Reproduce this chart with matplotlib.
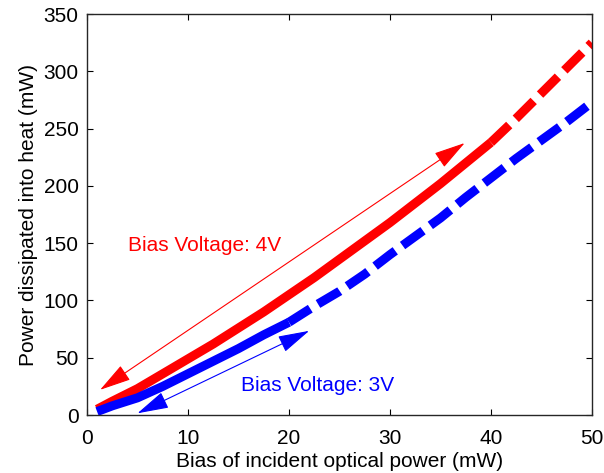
import matplotlib
matplotlib.use("Agg")
import matplotlib.pyplot as plt
import numpy as np

plt.rcParams['font.family'] = ['Liberation Sans', 'DejaVu Sans']

x_red = [1, 2.5, 5, 7.5, 10, 12.5, 15, 17.5, 20, 22.5, 25, 27.5, 30, 32.5, 35, 37.5, 40, 42.5, 45, 47.5, 50]
y_red = [5, 12, 23, 36, 49, 62, 76, 90, 105, 120, 136, 152, 168, 185, 202, 220, 238, 259, 281, 303, 325]
x_blue = [1, 2.5, 5, 7.5, 10, 12.5, 15, 17.5, 20, 22.5, 25, 27.5, 30, 32.5, 35, 37.5, 40, 42.5, 45, 47.5, 50]
y_blue = [3, 8, 15, 25, 36, 47, 58, 70, 81, 95, 108, 123, 140, 156, 172, 190, 207, 224, 240, 256, 273]
red_split = 40
blue_split = 20
xticks = [0, 10, 20, 30, 40, 50]
yticks = [0, 50, 100, 150, 200, 250, 300, 350]

fig = plt.figure(figsize=(6.04, 4.73), dpi=100)
ax = fig.add_axes([0.144, 0.1226, 0.836, 0.8474])

def plot_split(xs, ys, split, color):
    xs = np.array(xs); ys = np.array(ys)
    m1 = xs <= split
    m2 = xs >= split
    ax.plot(xs[m1], ys[m1], color=color, lw=6.5, solid_capstyle='butt')
    ax.plot(xs[m2], ys[m2], color=color, lw=6.5, dashes=(2.8, 1.0), dash_capstyle='butt')

plot_split(x_red, y_red, red_split, '#ff0000')
plot_split(x_blue, y_blue, blue_split, '#0000ff')

astyle = '<|-|>,head_length=1.1,head_width=0.3'
ax.annotate('', xy=(1.3, 22), xytext=(37.4, 237.5),
            arrowprops=dict(arrowstyle=astyle, mutation_scale=18, color='#ff0000', lw=0.8, shrinkA=0, shrinkB=0))
ax.annotate('', xy=(5.0, 1.5), xytext=(22.0, 73.5),
            arrowprops=dict(arrowstyle=astyle, mutation_scale=18, color='#0000ff', lw=0.8, shrinkA=0, shrinkB=0))

fs = 15
ax.text(4.1, 148, 'Bias Voltage: 4V', color='#ff0000', fontsize=fs, va='center', ha='left')
ax.text(15.3, 26, 'Bias Voltage: 3V', color='#0000ff', fontsize=fs, va='center', ha='left')

ax.set_xlim(0, 50)
ax.set_ylim(0, 350)
ax.set_xticks(xticks)
ax.set_yticks(yticks)
ax.tick_params(direction='in', top=True, right=True, labelsize=fs, length=4)
ax.tick_params(axis='x', pad=10)
ax.tick_params(axis='y', pad=6)
ax.set_xlabel('Bias of incident optical power (mW)', fontsize=fs, labelpad=3)
ax.set_ylabel('Power dissipated into heat (mW)', fontsize=fs, labelpad=4)
for s in ax.spines.values():
    s.set_linewidth(1.0)
    s.set_color('#262626')

fig.savefig('out.png', dpi=100)
